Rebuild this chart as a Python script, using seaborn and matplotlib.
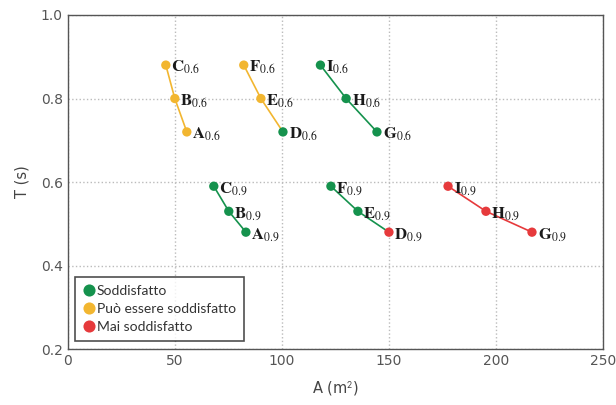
import matplotlib
matplotlib.use("Agg")
import matplotlib.pyplot as plt
from matplotlib.font_manager import FontProperties
import seaborn as sns
import pandas as pd

labels = ["C", "B", "A", "F", "E", "D", "I", "H", "G",
          "C", "B", "A", "F", "E", "D", "I", "H", "G"]
subs = ["0.6"] * 9 + ["0.9"] * 9
area = [45.8, 50.0, 55.6, 82.2, 90.2, 100.5, 118.0, 130.0, 144.4,
        68.2, 75.2, 83.2, 122.9, 135.5, 150.0, 177.6, 195.3, 216.8]
period = [0.88, 0.80, 0.72, 0.88, 0.80, 0.72, 0.88, 0.80, 0.72,
          0.59, 0.53, 0.48, 0.59, 0.53, 0.48, 0.59, 0.53, 0.48]
status = ["Può essere soddisfatto"] * 5 + ["Soddisfatto"] * 4 + \
         ["Soddisfatto"] * 5 + ["Mai soddisfatto"] * 4
group = ["ABC0.6"] * 3 + ["DEF0.6"] * 3 + ["GHI0.6"] * 3 + \
        ["ABC0.9"] * 3 + ["DEF0.9"] * 3 + ["GHI0.9"] * 3
group_color = {"ABC0.6": "orange", "DEF0.6": "orange", "GHI0.6": "green",
               "ABC0.9": "green", "DEF0.9": "green", "GHI0.9": "red"}
status_order = ["Soddisfatto", "Può essere soddisfatto", "Mai soddisfatto"]

palette = {"green": "#15924d", "orange": "#f2b630", "red": "#e63a3c"}
status_pal = {"Soddisfatto": palette["green"],
              "Può essere soddisfatto": palette["orange"],
              "Mai soddisfatto": palette["red"]}

df = pd.DataFrame({"label": labels, "sub": subs, "A": area, "T": period,
                   "status": status, "group": group})

sns.set_style("white")
plt.rcParams["font.family"] = ["DejaVu Sans"]
plt.rcParams["mathtext.fontset"] = "stix"

fig = plt.figure(figsize=(6.16, 4.05), dpi=100)
ax = fig.add_axes([0.110, 0.138, 0.869, 0.825])

line_pal = {g: palette[c] for g, c in group_color.items()}
sns.lineplot(data=df, x="A", y="T", hue="group", palette=line_pal, units="group",
             estimator=None, sort=False, legend=False, lw=1.2, ax=ax, zorder=2)
sns.scatterplot(data=df, x="A", y="T", hue="status", hue_order=status_order,
                palette=status_pal, s=45, edgecolor="none", ax=ax, zorder=3)

for _, r in df.iterrows():
    ax.annotate(r"$\mathbf{%s}_{\mathrm{%s}}$" % (r["label"], r["sub"]),
                (r["A"], r["T"]),
                xytext=(4, -5), textcoords="offset points", fontsize=12,
                color="#1a1a1a", zorder=4)

tick_fp = FontProperties(family="DejaVu Sans", size=10)
ax.set_xlim(0, 250)
ax.set_ylim(0.2, 1.0)
ax.set_xticks([0, 50, 100, 150, 200, 250])
ax.set_yticks([0.2, 0.4, 0.6, 0.8, 1.0])
ax.set_xticklabels(["0", "50", "100", "150", "200", "250"], fontproperties=tick_fp)
ax.set_yticklabels(["0.2", "0.4", "0.6", "0.8", "1.0"], fontproperties=tick_fp)
ax.grid(True, color="#bbbbbb", linestyle=":", linewidth=1.0)
ax.set_axisbelow(True)
ax.tick_params(direction="in", length=4, colors="#444444",
               labelcolor="#555555")
for sp in ax.spines.values():
    sp.set_color("#555555")
    sp.set_linewidth(1.0)
lab_fp = FontProperties(family="DejaVu Sans", size=10.5)
ax.set_xlabel(r"A (m$^{\mathsf{2}}$)", fontproperties=lab_fp, color="#444444", labelpad=8)
ax.set_ylabel("T (s)", fontproperties=lab_fp, color="#444444", labelpad=8)

leg_fp = FontProperties(family="Lato", size=10)
leg = ax.legend(loc="lower left", bbox_to_anchor=(0.005, 0.012),
                prop=leg_fp,
                frameon=True, fancybox=False, handletextpad=0.05,
                borderpad=0.55, labelspacing=0.45, handlelength=1.0,
                borderaxespad=0.3, title=None, markerscale=1.3)
leg.get_frame().set_edgecolor("#222222")
leg.get_frame().set_linewidth(1.2)
for t in leg.get_texts():
    t.set_color("#333333")

fig.savefig("out.png", dpi=100)
